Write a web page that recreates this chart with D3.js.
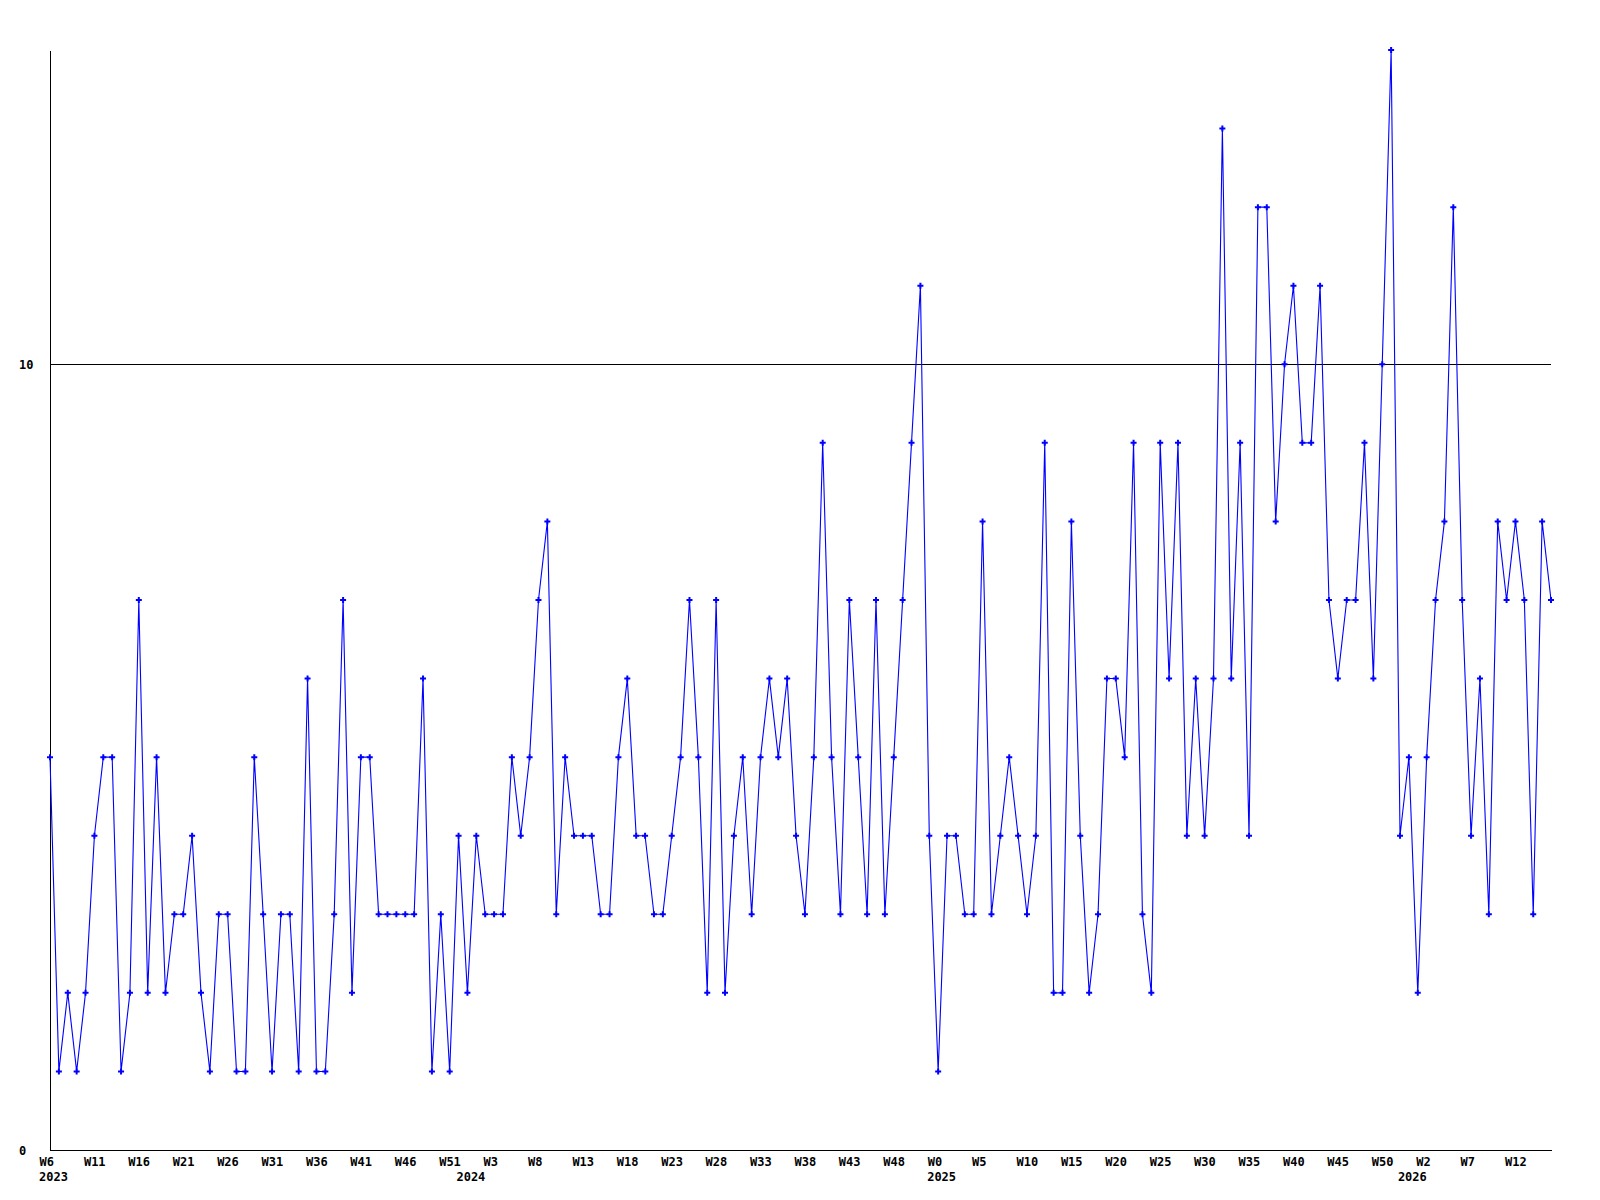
<!DOCTYPE html>
<html>
<head>
<meta charset="utf-8">
<script src="https://cdn.jsdelivr.net/npm/d3@7"></script>
<style>
  html, body { margin: 0; padding: 0; background: #ffffff; }
  svg { display: block; }
  text { font-family: "DejaVu Sans Mono", "Liberation Mono", monospace; font-weight: bold; font-size: 12px; fill: #000; }
</style>
</head>
<body>
<svg id="chart" width="1600" height="1200"></svg>
<script>
// ---- data ----
// year segments of week categories: [year, firstWeek, lastWeek]
const yearSegments = [[2023, 6, 52], [2024, 0, 52], [2025, 0, 52], [2026, 0, 16]];
const years = ["2023", "2024", "2025", "2026"];

const values = [
  5,1,2,1,2,4,5,5,1,2,
  7,2,5,2,3,3,4,2,1,3,
  3,1,1,5,3,1,3,3,1,6,
  1,1,3,7,2,5,5,3,3,3,
  3,3,6,1,3,1,4,2,4,3,
  3,3,5,4,5,7,8,3,5,4,
  4,4,3,3,5,6,4,4,3,3,
  4,5,7,5,2,7,2,4,5,3,
  5,6,5,6,4,3,5,9,5,3,
  7,5,3,7,3,5,7,9,11,4,
  1,4,4,3,3,8,3,4,5,4,
  3,4,9,2,2,8,4,2,3,6,
  6,5,9,3,2,9,6,9,4,6,
  4,6,13,6,9,4,12,12,8,10,
  11,9,9,11,7,6,7,7,9,6,
  10,14,4,5,2,5,7,8,12,7,
  4,6,3,8,7,8,7,3,8,7
];

const yTickValues = [0, 10];
const yMax = 14;
const labelEvery = 5;

// ---- categories built from segments ----
const categories = [];
yearSegments.forEach(([yr, w0, w1]) => {
  for (let w = w0; w <= w1; w++) categories.push({ year: String(yr), week: "W" + w });
});

// ---- layout ----
const svg = d3.select("#chart");
const mLeft = 50, mRight = 1551, mTop = 50, mBottom = 1150;

const x = d3.scaleLinear().domain([0, values.length - 1]).range([mLeft, mRight]);
const y = d3.scaleLinear().domain([0, yMax]).range([mBottom, mTop]);

// left axis with grid line
const yAxis = d3.axisLeft(y)
  .tickValues(yTickValues)
  .tickFormat(d3.format("d"))
  .tickSizeInner(-(mRight - mLeft))
  .tickSizeOuter(0);
const gy = svg.append("g").attr("transform", `translate(${mLeft},0)`).call(yAxis);
gy.attr("font-family", null).attr("font-size", null);
gy.select(".domain").attr("stroke", "#000").attr("shape-rendering", "crispEdges");
gy.selectAll(".tick line").attr("stroke", "#000").attr("shape-rendering", "crispEdges");
gy.selectAll(".tick text")
  .attr("text-anchor", "start")
  .attr("x", 19 - mLeft)
  .attr("dy", "0.35em");

// bottom axis with week labels
const tickIdx = d3.range(0, values.length, labelEvery);
const xAxis = d3.axisBottom(x)
  .tickValues(tickIdx)
  .tickFormat(i => categories[i].week)
  .tickSize(0);
const gx = svg.append("g").attr("transform", `translate(0,${mBottom})`).call(xAxis);
gx.attr("font-family", null).attr("font-size", null);
gx.select(".domain").attr("stroke", "#000").attr("shape-rendering", "crispEdges");
gx.selectAll(".tick text")
  .attr("text-anchor", "start")
  .attr("x", -11)
  .attr("y", 16)
  .attr("dy", null);

// year labels at first index of each year
const yearStarts = years.map(yr => categories.findIndex(c => c.year === yr));
svg.append("g").selectAll("text.year")
  .data(yearStarts)
  .join("text")
  .attr("class", "year")
  .attr("x", i => x(i) - 11)
  .attr("y", mBottom + 31)
  .text((i, k) => years[k]);

// line
const line = d3.line().x((d, i) => x(i)).y(d => y(d));
svg.append("path")
  .datum(values)
  .attr("fill", "none")
  .attr("stroke", "#0000ff")
  .attr("stroke-width", 1.1)
  .attr("d", line);

// markers
svg.append("g").selectAll("path.pt")
  .data(values)
  .join("path")
  .attr("class", "pt")
  .attr("transform", (d, i) => `translate(${x(i)},${y(d)})`)
  .attr("d", d3.symbol(d3.symbolCross, 20))
  .attr("fill", "#0000ff");
</script>
</body>
</html>
